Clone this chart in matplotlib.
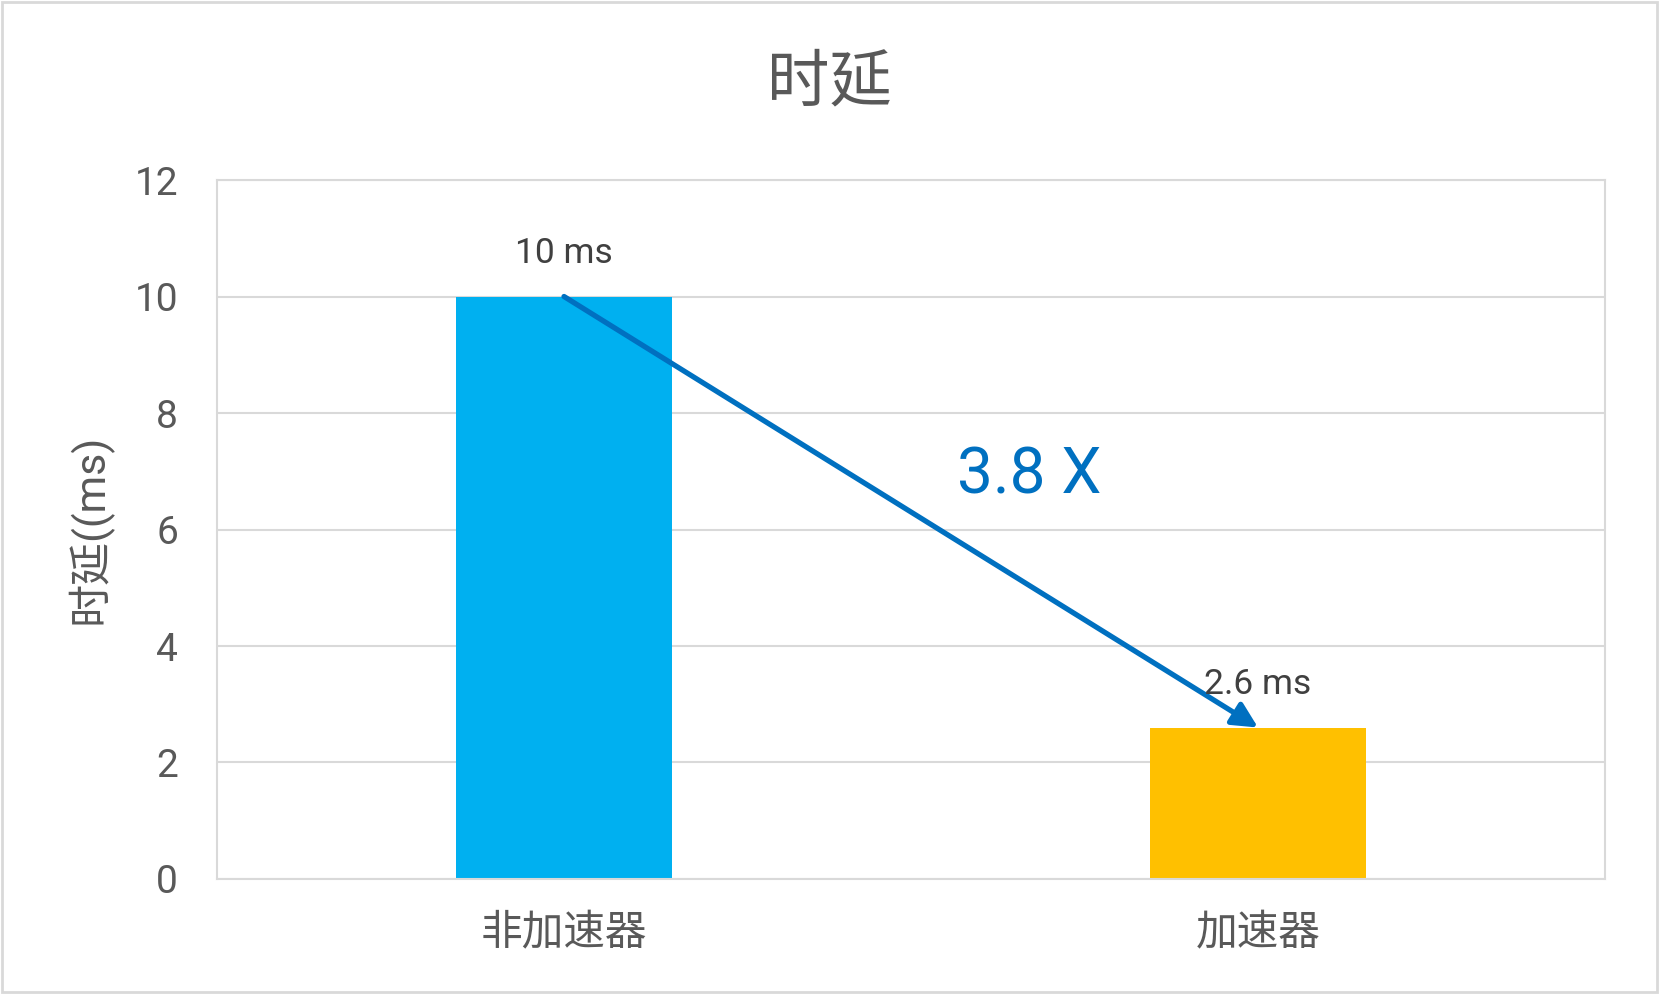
import matplotlib
matplotlib.use('Agg')
import matplotlib.pyplot as plt
from matplotlib.patches import Rectangle

plt.rcParams['font.family'] = ['Roboto', 'Noto Sans CJK SC']

# Datos
categorias = ['非加速器', '加速器']
latencias = [10, 2.6]
etiquetas = ['10 ms', '2.6 ms']
colores = ['#00B0F0', '#FFC000']
aceleracion = '3.8 X'
yticks = [0, 2, 4, 6, 8, 10, 12]

fig = plt.figure(figsize=(16.59, 9.94), dpi=100)
ax = fig.add_axes([0.1308, 0.1157, 0.8367, 0.7032])

x = list(range(len(categorias)))
ax.bar(x, latencias, width=0.31, color=colores, zorder=2)

ax.set_xlim(-0.5, 1.5)
ax.set_ylim(0, 12)
ax.set_yticks(yticks)
ax.set_xticks(x)
ax.set_xticklabels(categorias)
ax.tick_params(axis='y', length=0, pad=28, labelsize=28, labelcolor='#595959')
ax.tick_params(axis='x', length=0, pad=25, labelsize=30, labelcolor='#595959')
ax.yaxis.grid(True, color='#D9D9D9', lw=1.5, zorder=0)
for s in ax.spines.values():
    s.set_color('#D9D9D9')
    s.set_linewidth(1.5)

# Etiquetas de las barras
for xi, v, t in zip(x, latencias, etiquetas):
    ax.annotate(t, xy=(xi, v), xytext=(0, 31), textcoords='offset points',
                ha='center', va='center', fontsize=25.5, color='#404040', zorder=4)

# Flecha de mejora
ax.annotate('', xy=(x[1], latencias[1]), xytext=(x[0], latencias[0]),
            arrowprops=dict(arrowstyle='-|>', color='#0070C0', lw=3.8,
                            mutation_scale=38, shrinkA=0, shrinkB=0,
                            capstyle='round'), zorder=3)
ax.text(0.67, 6.92, aceleracion, ha='center', va='center', fontsize=46,
        color='#0070C0')

fig.text(0.5, 0.916, '时延', ha='center', va='center', fontsize=45,
         color='#595959')
fig.text(0.054, 0.468, '时延((ms)', ha='center', va='center', rotation=90,
         fontsize=31, color='#595959')

fig.patches.append(Rectangle((0.001, 0.002), 0.998, 0.996, transform=fig.transFigure,
                             fill=False, edgecolor='#D9D9D9', lw=2))

fig.savefig('out.png', dpi=100)
